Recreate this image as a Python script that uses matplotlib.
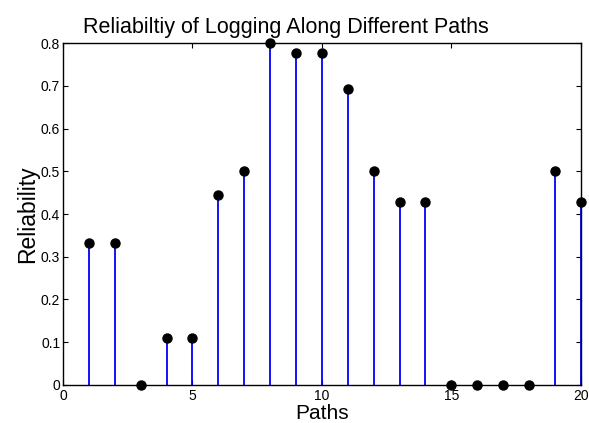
import matplotlib
matplotlib.use("Agg")
import matplotlib.pyplot as plt

paths = list(range(1, 21))
reliability = [0.333, 0.333, 0.0, 0.111, 0.111, 0.444, 0.5, 0.8, 0.778, 0.778,
               0.692, 0.5, 0.429, 0.429, 0.0, 0.0, 0.0, 0.0, 0.5, 0.429]
xticks = [0, 5, 10, 15, 20]
yticks = [0, 0.1, 0.2, 0.3, 0.4, 0.5, 0.6, 0.7, 0.8]
yticklabels = ['0', '0.1', '0.2', '0.3', '0.4', '0.5', '0.6', '0.7', '0.8']

plt.rcParams['font.family'] = ['Liberation Sans', 'DejaVu Sans']

fig = plt.figure(figsize=(5.89, 4.23), dpi=100)
ax = fig.add_axes([0.107, 0.090, 0.879, 0.808])

ax.vlines(paths, 0, reliability, colors='#0000ff', linewidth=1.3, zorder=2)
ax.plot(paths, reliability, 'o', color='black', markersize=6.5, clip_on=False, zorder=3)

ax.set_xlim(0, 20)
ax.set_ylim(0, 0.8)
ax.set_xticks(xticks)
ax.set_yticks(yticks)
ax.set_yticklabels(yticklabels)
ax.tick_params(direction='in', top=True, right=True, labelsize=10, length=3.6, width=0.8)
ax.tick_params(axis='x', pad=3)
ax.tick_params(axis='y', pad=2)
for s in ax.spines.values():
    s.set_linewidth(1.0)

ax.set_title('Reliabiltiy of Logging Along Different Paths', fontsize=15.5, pad=7,
             x=(286 - 63) / 518.0)
ax.set_xlabel('Paths', fontsize=15, labelpad=0.5)
ax.set_ylabel('Reliability', fontsize=16.5, labelpad=1)

fig.savefig('out.png', dpi=100)
